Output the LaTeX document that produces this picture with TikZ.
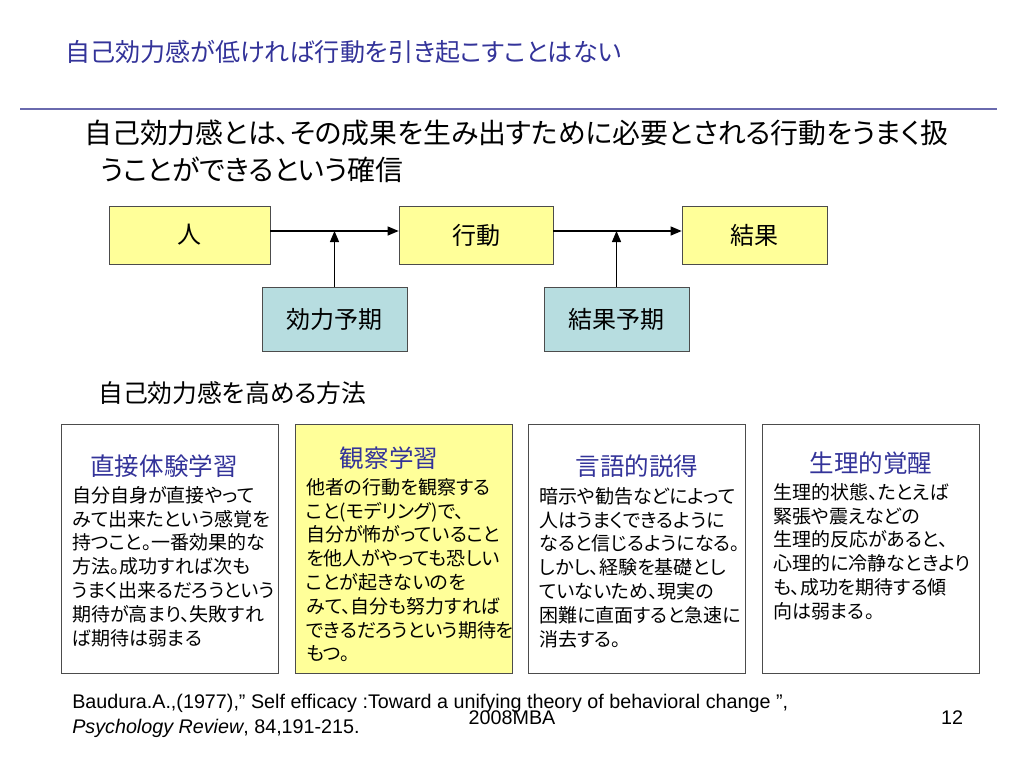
\documentclass[tikz,border=0pt]{standalone}
\usepackage{fontspec}
\setmainfont{Liberation Sans}
\newfontfamily\jp[RawFeature=+palt]{Noto Sans CJK JP}
\usetikzlibrary{arrows,positioning}
\definecolor{bleutitre}{HTML}{333399}
\definecolor{jaune}{HTML}{FFFF99}
\definecolor{turquoise}{HTML}{B7DDE0}
\definecolor{filet}{HTML}{6A6AAE}
\newcommand{\cbleu}[1]{\textcolor{bleutitre}{#1}}

\begin{document}
\begin{tikzpicture}[x=0.75pt, y=-0.75pt,
  every node/.style = {inner sep=0pt, align=left},
  boite/.style = {draw=black!70, line width=0.6pt, fill=jaune,
    minimum height=43.5pt, font=\jp\fontsize{18}{21}\selectfont},
  attente/.style = {boite, fill=turquoise, minimum width=108.75pt,
    minimum height=48pt},
  fleche/.style = {-triangle 45, line width=0.9pt},
  methode/.style = {draw=black!70, line width=0.6pt,
    minimum width=162.75pt, minimum height=186.75pt},
  entete/.style = {font=\jp\fontsize{18.4}{22}\selectfont},
  corps/.style = {anchor=north west, font=\jp\fontsize{14.25}{17.85}\selectfont},
  biblio/.style = {font=\fontsize{14.8}{17}\selectfont}]
  \useasboundingbox (0,0) rectangle (1024,768);

  \node[anchor=west, font=\jp\fontsize{18.8}{22}\selectfont] (titre) at (65,52)
    {\cbleu{自己効力感が低ければ行動を引き起こすことはない}};
  \draw[filet, line width=1.2pt] (20,109) -- (997,109);

  \node[anchor=west, font=\jp\fontsize{20.9}{24}\selectfont] (def1) at (84,133)
    {自己効力感とは、その成果を生み出すために必要とされる行動をうまく扱};
  \node[anchor=west, font=\jp\fontsize{20.9}{24}\selectfont] (def2) at (100,170)
    {うことができるという確信};

  % le modele
  \node[boite, minimum width=120.75pt] (jin) at (189.5,235) {人};
  \node[boite, minimum width=115.5pt] (koudou) at (476,235) {行動};
  \node[boite, minimum width=108.75pt] (kekka) at (754.5,235) {結果};
  \node[attente] (kouryoku) at (334.5,319) {効力予期};
  \node[attente] (kekkayoki) at (616.5,319) {結果予期};

  \coordinate (a1) at ([yshift=3pt]jin.east);
  \coordinate (a2) at ([yshift=3pt]koudou.east);
  \draw[fleche] (a1) -- (a1 -| koudou.west);
  \draw[fleche] (a2) -- (a2 -| kekka.west);
  \draw[fleche] (kouryoku.north) -- (kouryoku.north |- a1);
  \draw[fleche] (kekkayoki.north) -- (kekkayoki.north |- a2);

  \node[anchor=west, font=\jp\fontsize{18.6}{22}\selectfont] (moyens) at (98,393)
    {自己効力感を高める方法};

  % les quatre methodes
  \node[methode] (m1) at (169.5,548.5) {};
  \node[methode, fill=jaune] (m2) at (403.5,548.5) {};
  \node[methode] (m3) at (637,548.5) {};
  \node[methode] (m4) at (870.5,548.5) {};

  \node[entete] (m1h) at (164,466) {\cbleu{直接体験学習}};
  \node[entete] (m2h) at (389,458) {\cbleu{観察学習}};
  \node[entete] (m3h) at (637,466) {\cbleu{言語的説得}};
  \node[entete] (m4h) at (871,463) {\cbleu{生理的覚醒}};

  \node[corps] (m1t) at (72,486) {自分自身が直接やって\\みて出来たという感覚を\\持つこと。一番効果的な\\方法。成功すれば次も\\うまく出来るだろうという\\期待が高まり、失敗すれ\\ば期待は弱まる};
  \node[corps] (m2t) at (306,478) {他者の行動を観察する\\こと(モデリング)で、\\自分が怖がっていること\\を他人がやっても恐しい\\ことが起きないのを\\みて、自分も努力すれば\\できるだろうという期待を\\もつ。};
  \node[corps] (m3t) at (539,487) {暗示や勧告などによって\\人はうまくできるように\\なると信じるようになる。\\しかし、経験を基礎とし\\ていないため、現実の\\困難に直面すると急速に\\消去する。};
  \node[corps] (m4t) at (773,483) {生理的状態、たとえば\\緊張や震えなどの\\生理的反応があると、\\心理的に冷静なときより\\も、成功を期待する傾\\向は弱まる。};

  % reference
  \node[biblio, anchor=west] (ref1) at (72,703)
    {Baudura.A.,(1977),” Self efficacy :Toward a unifying theory of behavioral change ”,};
  \node[biblio, anchor=west] (ref2) at (72,728)
    {\textit{Psychology Review}, 84,191-215.};
  \node[biblio] (annee) at (512,718) {2008MBA};
  \node[biblio] (page) at (952,718) {12};
\end{tikzpicture}
\end{document}
